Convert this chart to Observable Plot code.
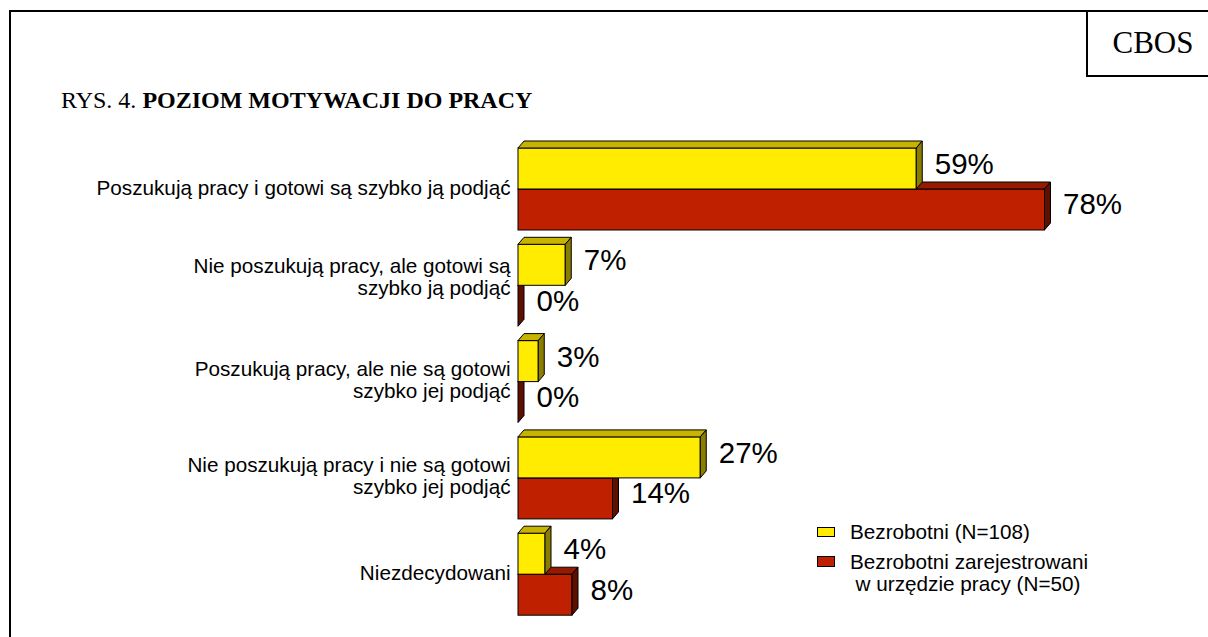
<!DOCTYPE html>
<html>
<head>
<meta charset="utf-8">
<script src="https://cdn.jsdelivr.net/npm/d3@7"></script>
<script src="https://cdn.jsdelivr.net/npm/@observablehq/plot@0.6"></script>
<style>
  html, body { margin: 0; padding: 0; background: #fff; overflow: hidden; }
  #wrap { position: relative; width: 1208px; height: 637px; overflow: hidden; background: #fff; }
  #frame { position: absolute; left: 9px; top: 10px; width: 1300px; height: 700px; border: 2px solid #000; box-sizing: border-box; }
  #cbos { position: absolute; left: 1086px; top: 10px; width: 140px; height: 67px; border: 2px solid #000; box-sizing: border-box; }
  #cbosText { position: absolute; left: 1088px; top: 27.3px; width: 130px; text-align: center; font: 31px/31px "Liberation Serif", "Times New Roman", serif; color: #000; }
  #title { position: absolute; left: 61px; top: 86.5px; font: 24px/26px "Liberation Serif", "Times New Roman", serif; color: #000; white-space: nowrap; }
  #chart { position: absolute; left: 0; top: 0; }
  .sw { position: absolute; left: 817px; width: 17.5px; height: 10.5px; border: 1px solid #000; box-sizing: border-box; }
  .lt { position: absolute; font: 20.7px/21.5px "Liberation Sans", Arial, sans-serif; color: #000; white-space: nowrap; }
</style>
</head>
<body>
<div id="wrap">
  <div id="frame"></div>
  <div id="cbos"></div>
  <div id="cbosText">CBOS</div>
  <div id="title">RYS. 4. <b>POZIOM MOTYWACJI DO PRACY</b></div>
  <div id="chart"></div>
  <div id="legend"></div>
</div>
<script>
// ---- data ----
const categories = [
  "Poszukują pracy i gotowi są szybko ją podjąć",
  "Nie poszukują pracy, ale gotowi są szybko ją podjąć",
  "Poszukują pracy, ale nie są gotowi szybko jej podjąć",
  "Nie poszukują pracy i nie są gotowi szybko jej podjąć",
  "Niezdecydowani"
];
const tickLabels = [
  "Poszukują pracy i gotowi są szybko ją podjąć",
  "Nie poszukują pracy, ale gotowi są\nszybko ją podjąć",
  "Poszukują pracy, ale nie są gotowi\nszybko jej podjąć",
  "Nie poszukują pracy i nie są gotowi\nszybko jej podjąć",
  "Niezdecydowani"
];
const seriesNames = ["Bezrobotni (N=108)", "Bezrobotni zarejestrowani\nw urzędzie pracy (N=50)"];
const bezrobotni = [59, 7, 3, 27, 4];
const zarejestrowani = [78, 0, 0, 14, 8];

// ---- styles ----
const colors = {
  yellow: {front: "#FFEC00", top: "#C8B400", side: "#8A7E00"},
  red:    {front: "#BE2000", top: "#951A00", side: "#5E0F00"}
};
const DX = 6, DY = 7;   // 3D depth (pixels)
const HALF = 41;        // each bar's thickness inside the band

const yellowRows = categories.map((c, i) => ({category: c, value: bezrobotni[i], series: seriesNames[0]}));
const redRows = categories.map((c, i) => ({category: c, value: zarejestrowani[i], series: seriesNames[1]}));

function bar3d(rows, col, insetTop, insetBottom) {
  return Plot.barX(rows, {
    x: "value",
    y: "category",
    fill: col.front,
    stroke: "#000",
    strokeWidth: 1,
    insetTop, insetBottom,
    render(index, scales, values, dimensions, context, next) {
      const g = next(index, scales, values, dimensions, context);
      const x = scales.x, y = scales.y;
      const bw = y.bandwidth();
      const sel = d3.select(g);
      for (const i of index) {
        const d = rows[i];
        const x0 = x(0), x1 = x(d.value);
        const yt = y(d.category) + insetTop;
        const yb = y(d.category) + bw - insetBottom;
        const top = `M${x0},${yt}L${x1},${yt}L${x1 + DX},${yt - DY}L${x0 + DX},${yt - DY}Z`;
        const side = `M${x1},${yt}L${x1 + DX},${yt - DY}L${x1 + DX},${yb - DY}L${x1},${yb}Z`;
        sel.append("path").attr("d", top).attr("fill", col.top).attr("stroke", "#000").attr("stroke-width", 1).attr("stroke-linejoin", "round");
        sel.append("path").attr("d", side).attr("fill", col.side).attr("stroke", "#000").attr("stroke-width", 1).attr("stroke-linejoin", "round");
      }
      return g;
    }
  });
}

const axisOpts = {
  tickSize: 0,
  tickPadding: 8,
  fontSize: 20.7,
  lineHeight: 1.06,
  label: null,
  tickFormat: d => tickLabels[categories.indexOf(d)]
};

const chart = Plot.plot({
  width: 1208,
  height: 637,
  marginLeft: 518,
  marginRight: 15,
  marginTop: 148,
  marginBottom: 21.8,
  style: {fontFamily: "'Liberation Sans', Arial, sans-serif", color: "#000", background: "transparent", overflow: "visible"},
  x: {domain: [0, 100], axis: null},
  y: {domain: categories, paddingInner: 0.1485, paddingOuter: 0, round: false},
  marks: [
    bar3d(redRows, colors.red, HALF, 0),
    bar3d(yellowRows, colors.yellow, 0, HALF),
    Plot.text(yellowRows, {x: "value", y: "category", text: d => d.value + "%", textAnchor: "start", dx: 18, dy: -25, fontSize: 29.5, fill: "#000"}),
    Plot.text(redRows, {x: "value", y: "category", text: d => d.value + "%", textAnchor: "start", dx: 18, dy: 15.5, fontSize: 29.5, fill: "#000"}),
    Plot.axisY(categories.filter((c, i) => i !== 1), {...axisOpts, dy: -2}),
    Plot.axisY([categories[1]], {...axisOpts, dy: -9})
  ]
});
document.getElementById("chart").appendChild(chart);

// ---- legend ----
const legend = document.getElementById("legend");
const legendSpec = [
  {name: seriesNames[0], color: colors.yellow.front, swTop: 526.5, textTop: 521, left: 850, align: "left"},
  {name: seriesNames[1], color: colors.red.front, swTop: 556, textTop: 551.2, left: 850, align: "center"}
];
for (const s of legendSpec) {
  const sw = document.createElement("div");
  sw.className = "sw";
  sw.style.top = s.swTop + "px";
  sw.style.background = s.color;
  legend.appendChild(sw);
  const t = document.createElement("div");
  t.className = "lt";
  t.style.top = s.textTop + "px";
  t.style.left = s.left + "px";
  t.style.width = "236px";
  t.style.textAlign = s.align;
  t.innerHTML = s.name.split("\n").join("<br>");
  legend.appendChild(t);
}
</script>
</body>
</html>
